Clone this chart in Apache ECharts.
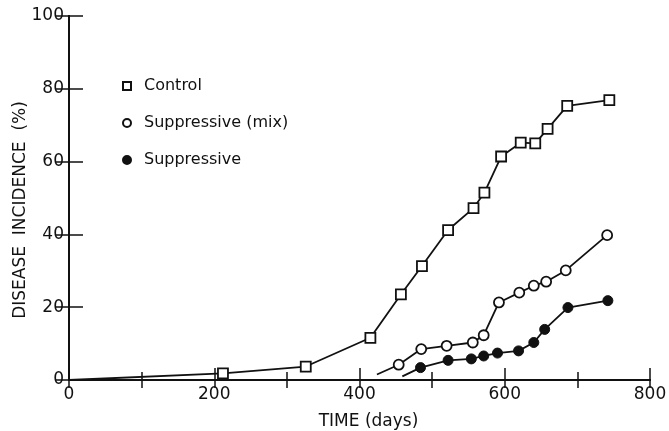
<!DOCTYPE html>
<html>
<head>
<meta charset="utf-8">
<script src="https://cdn.jsdelivr.net/npm/echarts@6/dist/echarts.min.js"></script>
<style>
  html, body { margin: 0; padding: 0; background: #fff; }
  #chart { width: 669px; height: 431px; }
</style>
</head>
<body>
<div id="chart"></div>
<script>
// data (days, % incidence)
const controlDays = [0, 212, 326, 415, 457, 486, 522, 557, 572, 595, 622, 642, 659, 686, 744];
const controlPct = [0, 1.8, 3.7, 11.6, 23.5, 31.3, 41.2, 47.2, 51.5, 61.4, 65.2, 65.0, 69.0, 75.3, 76.9];

const mixDays = [424, 454, 485, 520, 556, 571, 592, 620, 640, 657, 684, 741];
const mixPct = [1.5, 4.2, 8.5, 9.4, 10.3, 12.3, 21.3, 24.0, 25.9, 27.0, 30.1, 39.8];

const suppDays = [459, 484, 522, 554, 571, 590, 619, 640, 655, 687, 742];
const suppPct = [1.0, 3.4, 5.4, 5.8, 6.6, 7.4, 8.0, 10.3, 13.9, 19.9, 21.8];

// first point of each curve is only where the drawn line begins (no marker)
const seriesNames = ['Control', 'Suppressive (mix)', 'Suppressive'];
const xTicks = [0, 200, 400, 600, 800];
const yTicks = [0, 20, 40, 60, 80, 100];

const toData = (days, pct) =>
  days.map((d, i) => (i === 0 ? { value: [d, pct[i]], symbol: 'none' } : [d, pct[i]]));

const chart = echarts.init(document.getElementById('chart'));
const ink = '#111';
const font = 'DejaVu Sans';

const axisLine = { show: true, lineStyle: { color: ink, width: 2 } };

chart.setOption({
  backgroundColor: '#fff',
  animation: false,
  textStyle: { fontFamily: font, color: ink },
  grid: { left: 69, right: 19, top: 16, bottom: 51, outerBoundsMode: 'none', containLabel: false },
  legend: {
    orient: 'vertical',
    left: 117,
    top: 73,
    itemWidth: 8,
    itemHeight: 8,
    itemGap: 21,
    textStyle: { fontFamily: font, fontSize: 16, color: ink, padding: [0, 0, 0, 8] },
    data: [
      { name: seriesNames[0], icon: 'rect' },
      { name: seriesNames[1], icon: 'circle' },
      { name: seriesNames[2], icon: 'circle' },
    ],
  },
  xAxis: [
    {
      type: 'value',
      position: 'bottom',
      min: xTicks[0],
      max: xTicks[xTicks.length - 1],
      interval: 200,
      axisLine,
      axisTick: { inside: true, length: 12, lineStyle: { color: ink, width: 1.5 } },
      minorTick: { show: true, splitNumber: 2, length: 8, lineStyle: { color: ink, width: 1.5 } },
      splitLine: { show: false },
      axisLabel: { fontFamily: font, fontSize: 17, color: ink, margin: 6 },
      name: 'TIME (days)',
      nameLocation: 'middle',
      nameGap: 33,
      nameMoveOverlap: false,
      nameTextStyle: { fontFamily: font, fontSize: 17, color: ink, padding: [0, 0, 0, 18] },
    },
    {
      type: 'value',
      position: 'top',
      min: xTicks[0],
      max: xTicks[xTicks.length - 1],
      interval: 100,
      axisLine,
      axisTick: { inside: true, length: 8, lineStyle: { color: ink, width: 1.5 } },
      axisLabel: { show: false },
      splitLine: { show: false },
    },
  ],
  yAxis: [
    {
      type: 'value',
      position: 'left',
      min: yTicks[0],
      max: yTicks[yTicks.length - 1],
      interval: 20,
      axisLine,
      axisTick: { inside: true, length: 14, lineStyle: { color: ink, width: 1.5 } },
      splitLine: { show: false },
      axisLabel: { fontFamily: font, fontSize: 17, color: ink, margin: 5 },
      name: 'DISEASE  INCIDENCE  (%)',
      nameLocation: 'middle',
      nameRotate: 90,
      nameGap: 40,
      nameMoveOverlap: false,
      nameTextStyle: { fontFamily: font, fontSize: 17, color: ink, padding: [0, 24, 0, 0] },
    },
    {
      type: 'value',
      position: 'right',
      min: yTicks[0],
      max: yTicks[yTicks.length - 1],
      interval: 20,
      axisLine,
      axisTick: { inside: true, length: 14, lineStyle: { color: ink, width: 1.5 } },
      axisLabel: { show: false },
      splitLine: { show: false },
    },
  ],
  series: [
    {
      name: seriesNames[0],
      type: 'line',
      data: toData(controlDays, controlPct),
      symbol: 'rect',
      symbolSize: 10,
      showAllSymbol: true,
      lineStyle: { color: ink, width: 1.8 },
      itemStyle: { color: '#fff', borderColor: ink, borderWidth: 1.8 },
      z: 3,
    },
    {
      name: seriesNames[1],
      type: 'line',
      data: toData(mixDays, mixPct),
      symbol: 'circle',
      symbolSize: 10,
      showAllSymbol: true,
      lineStyle: { color: ink, width: 1.8 },
      itemStyle: { color: '#fff', borderColor: ink, borderWidth: 1.8 },
      z: 3,
    },
    {
      name: seriesNames[2],
      type: 'line',
      data: toData(suppDays, suppPct),
      symbol: 'circle',
      symbolSize: 10,
      showAllSymbol: true,
      lineStyle: { color: ink, width: 1.8 },
      itemStyle: { color: ink, borderColor: ink, borderWidth: 1 },
      z: 3,
    },
  ],
});
</script>
</body>
</html>
